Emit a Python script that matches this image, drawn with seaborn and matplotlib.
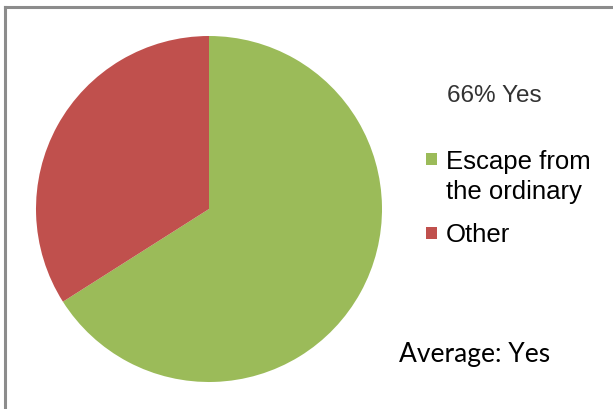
import matplotlib
matplotlib.use("Agg")
import matplotlib.pyplot as plt
from matplotlib.lines import Line2D
from matplotlib.patches import Rectangle
import seaborn as sns

categories = ["Escape from\nthe ordinary", "Other"]
shares = [66, 34]
colors = ["#9BBB59", "#C0504D"]
headline = "66% Yes"
footnote = "Average: Yes"

sns.set_theme(style="white")
plt.rcParams["font.family"] = ["Liberation Sans", "DejaVu Sans"]

W, H = 613, 410
fig = plt.figure(figsize=(W / 100, H / 100), dpi=100)
fig.patch.set_facecolor("white")

# pie occupies a square area centred at (209, 210) px with radius 173 px
cx, cy, r = 209, 210, 173
ax = fig.add_axes([(cx - r) / W, (H - cy - r) / H, 2 * r / W, 2 * r / H])
wedges, _ = ax.pie(shares, colors=colors, startangle=90, counterclock=False,
                   radius=1.0, wedgeprops=dict(linewidth=0))
ax.set_xlim(-1, 1)
ax.set_ylim(-1, 1)
ax.set_aspect("equal")
ax.axis("off")

# frame lines along the top and left edges
edge = "#8C8C8C"
fig.add_artist(Line2D([5.5 / W, 5.5 / W], [0, 1 - 8 / H], transform=fig.transFigure,
                      color=edge, linewidth=2.2, solid_capstyle="projecting"))
fig.add_artist(Line2D([5.5 / W, 1], [1 - 8 / H, 1 - 8 / H], transform=fig.transFigure,
                      color=edge, linewidth=2.2, solid_capstyle="projecting"))

fig.text(447 / W, 1 - 102 / H, headline, fontsize=17.5, color="#333333",
         ha="left", va="baseline")

# legend: colour key squares with labels; first-line baselines in px
baselines = [168, 242]
line_step = 31
for label, color, base in zip(categories, colors, baselines):
    n_lines = label.count("\n") + 1
    fig.add_artist(Rectangle((426 / W, 1 - (base - 2) / H), 11 / W, 12 / H,
                             transform=fig.transFigure, facecolor=color,
                             edgecolor="none"))
    last_base = base + (n_lines - 1) * line_step
    fig.text(446 / W, 1 - last_base / H, label, fontsize=18.5, color="#000000",
             ha="left", va="baseline", linespacing=1.33)

fig.text(399 / W, 1 - 362 / H, footnote, fontsize=19, color="#000000",
         family=["Lato", "DejaVu Sans"], ha="left", va="baseline")

fig.savefig("out.png", dpi=100, facecolor="white")
